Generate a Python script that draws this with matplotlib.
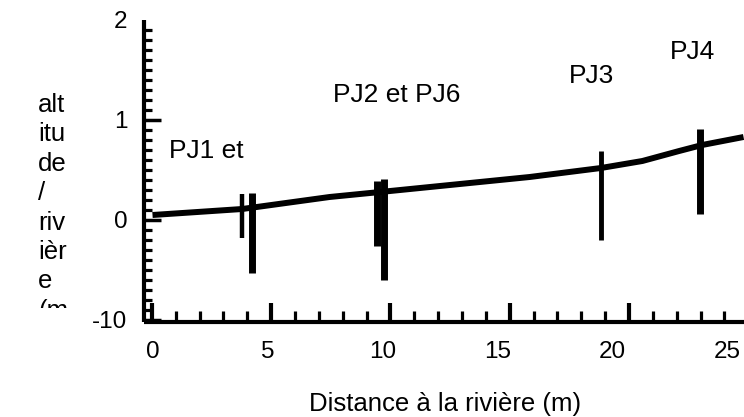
import matplotlib
matplotlib.use("Agg")
import matplotlib.pyplot as plt
from matplotlib.patches import Rectangle
import numpy as np

plt.rcParams['font.family'] = ['Liberation Sans', 'DejaVu Sans']

# ---- data ----
line_x = [0.0, 3.9, 7.7, 9.9, 16.4, 19.5, 21.3, 22.9, 23.9, 25.7]
line_y = [0.05, 0.11, 0.23, 0.28, 0.43, 0.52, 0.59, 0.69, 0.75, 0.83]

bar_x = [3.88, 4.33, 9.75, 10.07, 19.5, 23.8]
bar_top = [0.26, 0.27, 0.39, 0.41, 0.69, 0.91]
bar_bottom = [-0.18, -0.53, -0.26, -0.60, -0.20, 0.06]
bar_width_pt = [3.2, 5.0, 5.0, 5.0, 3.5, 5.0]

label_text = ["PJ1 et", "PJ2 et PJ6", "PJ3", "PJ4"]
label_x = [2.33, 10.6, 19.07, 23.5]
label_y = [0.69, 1.25, 1.44, 1.68]

xtick_vals = [0, 5, 10, 15, 20, 25]
xtick_labels = ["0", "5", "10", "15", "20", "25"]
ytick_vals = [-1, 0, 1, 2]
ytick_labels = ["-10", "0", "1", "2"]

ylabel_lines = ["alt", "itu", "de", "/", "riv", "ièr", "e", "(m"]
xlabel = "Distance à la rivière (m)"

# ---- figure ----
W, H = 744, 417
fig = plt.figure(figsize=(W / 100, H / 100), dpi=100)
ax = fig.add_axes([144 / W, (H - 322) / H, 1 - 144 / W, (322 - 20) / H])
ax.set_xlim(-0.37, 25.72)
ax.set_ylim(-1.02, 2.0)

ax.plot(line_x, line_y, color='black', lw=4.3, solid_capstyle='butt',
        solid_joinstyle='round', zorder=3)
for x, t, b, w in zip(bar_x, bar_top, bar_bottom, bar_width_pt):
    ax.vlines(x, b, t, color='black', lw=w, zorder=4)

for s, x, y in zip(label_text, label_x, label_y):
    ax.text(x, y, s, ha='center', va='center', fontsize=19)

for side in ['top', 'right']:
    ax.spines[side].set_visible(False)
for side in ['left', 'bottom']:
    ax.spines[side].set_linewidth(3)
    ax.spines[side].set_capstyle('butt')

# x labels (main axis), marks drawn by a secondary axis with its own scale
ax.set_xticks(xtick_vals)
ax.set_xticklabels(xtick_labels, fontsize=17.5)
ax.tick_params(axis='x', length=0, pad=14)

fwd = lambda v: 0.0293 + 0.964 * np.asarray(v)
inv = lambda v: (np.asarray(v) - 0.0293) / 0.964
sec = ax.secondary_xaxis('bottom', functions=(fwd, inv))
sec.spines['bottom'].set_visible(False)
sec.set_xticks(xtick_vals)
sec.set_xticks(np.arange(0, 27, 1), minor=True)
sec.tick_params(axis='x', which='major', direction='in', length=13.5, width=3, labelbottom=False)
sec.tick_params(axis='x', which='minor', direction='in', length=8, width=2.3)

ax.set_yticks(ytick_vals)
ax.set_yticklabels(ytick_labels, fontsize=17.5)
ax.set_yticks(np.arange(-1, 2.01, 0.1), minor=True)
ax.tick_params(axis='y', which='major', direction='in', length=12, width=2.5, pad=12)
ax.tick_params(axis='y', which='minor', direction='in', length=6, width=2.3)
ax.yaxis.get_major_ticks()[-1].tick1line.set_visible(False)

yl = fig.text(38 / W, (H - 93) / H, "\n".join(ylabel_lines), ha='left', va='top',
              fontsize=18.5, linespacing=1.285)
clip = Rectangle((0, (H - 308) / H), 1, 1, transform=fig.transFigure)
yl.set_clip_path(clip)

fig.text(445 / W, 6 / H, xlabel, ha='center', va='baseline', fontsize=18.5)

fig.savefig("out.png", dpi=100)
